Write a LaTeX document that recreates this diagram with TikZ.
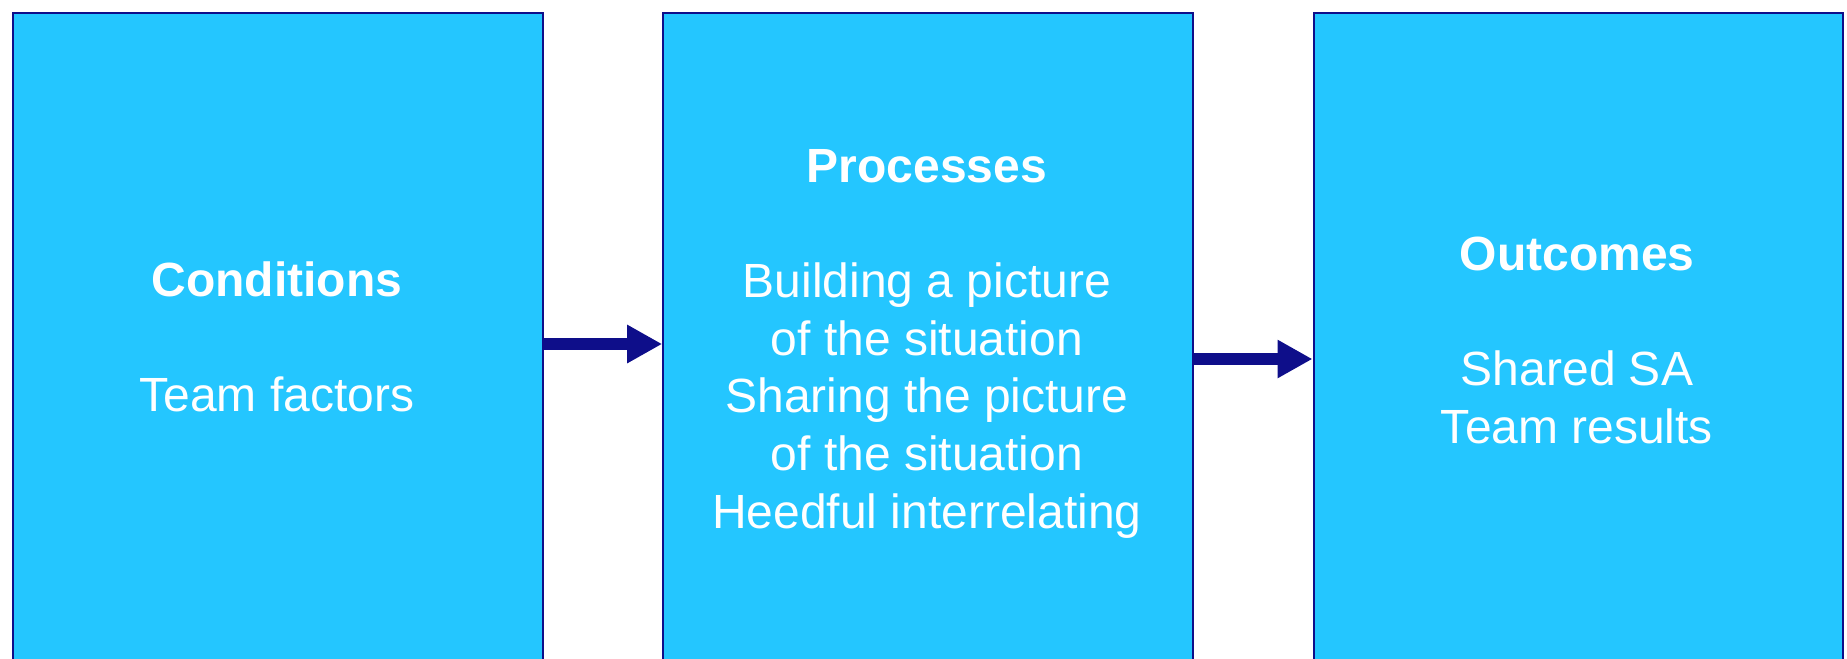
\documentclass[tikz,border=0pt]{standalone}
\usepackage{fontspec}
\setmainfont{Liberation Sans}
\usetikzlibrary{arrows.meta}
\definecolor{boxfill}{RGB}{36,198,255}
\definecolor{navy}{RGB}{14,14,138}
\begin{document}
\begin{tikzpicture}[x=0.75pt,y=-0.75pt,
  panel/.style={draw=navy,line width=1.5pt,fill=boxfill,inner sep=0pt,
    minimum width=397pt,minimum height=531pt,anchor=north west},
  txt/.style={text=white,inner sep=0pt,anchor=base,font=\fontsize{36}{43.2}\selectfont},
  arr/.style={draw=navy,line width=9pt,-{Triangle[length=26.25pt,width=27pt]}}]
\useasboundingbox (0,0) rectangle (1847,658);
\clip (0,0) rectangle (1847,658);
\node[panel] (b1) at (12.2,11.5) {};
\node[panel] (b2) at (662.2,11.5) {};
\node[panel] (b3) at (1312.5,11.5) {};
\node[txt] (t1) at (276.8,296) {\begin{tabular}[t]{@{}c@{}}\textbf{Conditions}\\ \\ Team factors\end{tabular}};
\node[txt] (t2) at (926.8,182.5) {\begin{tabular}[t]{@{}c@{}}\textbf{Processes}\\ \\ Building a picture\\ of the situation\\ Sharing the picture\\ of the situation\\ Heedful interrelating\end{tabular}};
\node[txt] (t3) at (1577,270.5) {\begin{tabular}[t]{@{}c@{}}\textbf{Outcomes}\\ \\ Shared SA\\ Team results\end{tabular}};
\coordinate (y1) at (0,344);
\coordinate (y2) at (0,359);
\draw[arr] (b1.east |- y1) -- (b2.west |- y1);
\draw[arr] (b2.east |- y2) -- (b3.west |- y2);
\end{tikzpicture}
\end{document}
